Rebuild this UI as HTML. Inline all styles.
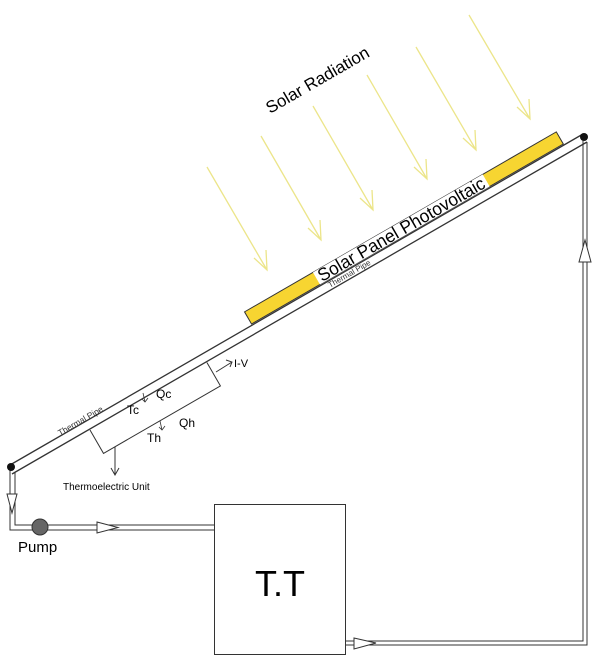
<!DOCTYPE html>
<html><head><style>body{margin:0;background:#fff}svg{display:block}</style></head>
<body>
<svg width="600" height="659" viewBox="0 0 600 659" xmlns="http://www.w3.org/2000/svg" font-family="Liberation Sans, sans-serif">
<rect width="600" height="659" fill="#fff"/>
<!-- rays -->
<g stroke="#ece58a" stroke-width="1.3" fill="none">
<path d="M207,167 L267,270 M254,258 L267,270 L266,250"/>
<path d="M261,136 L321,240 M308,228 L321,240 L320,220"/>
<path d="M313,106 L373,210 M360,198 L373,210 L372,190"/>
<path d="M367,75 L427,179 M414,167 L427,179 L426,159"/>
<path d="M416,47 L476,150 M463,138 L476,150 L475,130"/>
<path d="M469,15 L530,119 M517,107 L530,119 L529,99"/>
</g>
<text x="0" y="0" font-size="17" transform="translate(270,114) rotate(-30)">Solar Radiation</text>
<!-- pipe -->
<line x1="10" y1="465" x2="583" y2="134" stroke="#333" stroke-width="1.3"/>
<line x1="12" y1="474" x2="587" y2="142" stroke="#333" stroke-width="1.3"/>
<!-- panel -->
<g transform="translate(255,322) rotate(-30)">
<rect x="-4" y="-14" width="360" height="14" fill="#f7d531" stroke="#333" stroke-width="1"/>
<rect x="75" y="-14" width="196" height="14" fill="#fff"/>
<text x="78" y="-1" font-size="18" textLength="190" lengthAdjust="spacingAndGlyphs">Solar Panel Photovoltaic</text>
<text x="82" y="8" font-size="8" fill="#333">Thermal Pipe</text>
</g>
<text font-size="8.5" fill="#333" transform="translate(60,436) rotate(-30)">Thermal Pipe</text>
<!-- TE unit -->
<g transform="translate(90,430) rotate(-30)">
<path d="M0,0 L0,27 L135,27 L135,0" fill="none" stroke="#333" stroke-width="1"/>
</g>
<line x1="115" y1="447" x2="115" y2="475" stroke="#333"/>
<path d="M111,468 L115,475 L119,468" fill="none" stroke="#333"/>
<text x="63" y="490" font-size="10">Thermoelectric Unit</text>
<line x1="216" y1="372" x2="232" y2="362" stroke="#333"/>
<path d="M226,360 L232,362 L230,367" fill="none" stroke="#333"/>
<text x="234" y="367" font-size="11">I-V</text>
<text x="127" y="414" font-size="12">Tc</text>
<text x="156" y="398" font-size="12">Qc</text>
<text x="147" y="442" font-size="12">Th</text>
<text x="179" y="427" font-size="12">Qh</text>
<path d="M143,393 L145,402 M142,399 L145,402 L148,398" fill="none" stroke="#333" stroke-width="0.8"/>
<path d="M160,421 L162,430 M159,427 L162,430 L165,426" fill="none" stroke="#333" stroke-width="0.8"/>
<!-- left loop -->
<path d="M10,470 L10,530 L214,530 M15,472 L15,525 L214,525" fill="none" stroke="#333" stroke-width="1"/>
<path d="M7,494 L12,513 L17,494 Z" fill="#fff" stroke="#333"/>
<path d="M97,522 L118,527.5 L97,533 Z" fill="#fff" stroke="#333"/>
<circle cx="40" cy="527" r="8" fill="#666" stroke="#333"/>
<circle cx="11" cy="467" r="4" fill="#111"/>
<circle cx="584" cy="137" r="4" fill="#111"/>
<text x="18" y="552" font-size="15">Pump</text>
<!-- box -->
<rect x="214.5" y="504.5" width="131" height="150" fill="#fff" stroke="#333"/>
<text x="280" y="596" font-size="36" text-anchor="middle">T.T</text>
<!-- right loop -->
<path d="M346,641 L583,641 L583,140 M346,645 L587,645 L587,142" fill="none" stroke="#333" stroke-width="1"/>
<path d="M354,638 L376,643 L354,649 Z" fill="#fff" stroke="#333"/>
<path d="M579,262 L585,240 L591,262 Z" fill="#fff" stroke="#333"/>
</svg>
</body></html>
